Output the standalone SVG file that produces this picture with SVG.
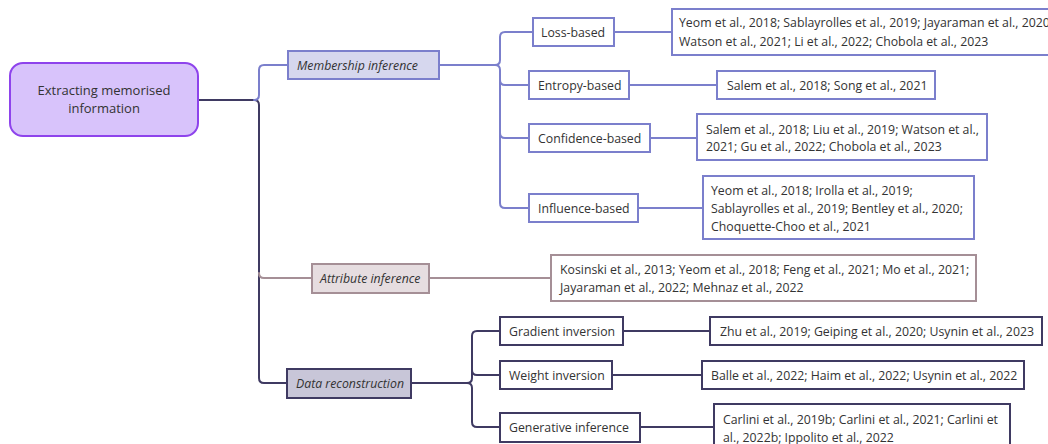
<svg xmlns="http://www.w3.org/2000/svg" width="1048" height="444" viewBox="0 0 1048 444">
<style>
text{font-family:"Open Sans","Noto Sans","Liberation Sans",sans-serif;font-size:12.3px;fill:#333333}
.it{font-style:italic}
.c{fill:none;stroke-width:2;stroke-linecap:round;stroke-linejoin:round}
.mi{stroke:#7b7fcc}
.at{stroke:#a58f96}
.dr{stroke:#3f3a62}
.box{fill:#ffffff;stroke-width:2}
</style>
<rect width="1048" height="444" fill="#ffffff"/>
<g id="connectors">
<path class="c dr" d="M198,100 H254 Q259,100 259,105 V378 Q259,383 264,383 H287"/>
<path class="c mi" d="M254,100 Q259,100 259,95 V70 Q259,65 264,65 H288"/>
<path class="c at" d="M259,273 Q259,278 264,278 H312"/>
<path class="c mi" d="M439,65 H495 Q500,65 500,60 V37 Q500,32 505,32 H533"/>
<path class="c mi" d="M495,65 Q500,65 500,70 V203 Q500,208 505,208 H529"/>
<path class="c mi" d="M500,80 Q500,85 505,85 H529"/>
<path class="c mi" d="M500,133 Q500,138 505,138 H529"/>
<path class="c mi" d="M614,32 H672"/>
<path class="c mi" d="M629,85 H717"/>
<path class="c mi" d="M650,138 H697"/>
<path class="c mi" d="M638,208 H703"/>
<path class="c at" d="M429,278 H551"/>
<path class="c dr" d="M411,383 H467 Q472,383 472,378 V336 Q472,331 477,331 H500"/>
<path class="c dr" d="M467,383 Q472,383 472,388 V422 Q472,427 477,427 H500"/>
<path class="c dr" d="M472,370 Q472,375 477,375 H500"/>
<path class="c dr" d="M623,331 H710"/>
<path class="c dr" d="M612,375 H702"/>
<path class="c dr" d="M640,427 H714"/>
</g>
<g id="root">
<rect x="10" y="63" width="188" height="73" rx="13" fill="#d8c3fb" stroke="#8e43ec" stroke-width="2"/>
<text x="104" y="95" text-anchor="middle" style="font-size:13px">Extracting memorised</text>
<text x="104" y="113" text-anchor="middle" style="font-size:13px">information</text>
</g>
<g id="membership-inference">
<rect x="288" y="51" width="151" height="28" fill="#d6d7ee" stroke="#7b7fcc" stroke-width="2"/>
<text class="it" x="297" y="69.5">Membership inference</text>
</g>
<g id="loss-based">
<rect class="box" x="533" y="18" width="81" height="28" stroke="#7b7fcc"/>
<text x="541" y="36.5">Loss-based</text>
</g>
<g id="loss-refs">
<rect class="box" x="672" y="9" width="390" height="46" stroke="#7b7fcc"/>
<text x="679" y="27">Yeom et al., 2018; Sablayrolles et al., 2019; Jayaraman et al., 2020</text>
<text x="679" y="46">Watson et al., 2021; Li et al., 2022; Chobola et al., 2023</text>
</g>
<g id="entropy-based">
<rect class="box" x="529" y="71" width="100" height="28" stroke="#7b7fcc"/>
<text x="538" y="89.5">Entropy-based</text>
</g>
<g id="entropy-refs">
<rect class="box" x="717" y="71" width="218" height="28" stroke="#7b7fcc"/>
<text x="727" y="89.5">Salem et al., 2018; Song et al., 2021</text>
</g>
<g id="confidence-based">
<rect class="box" x="529" y="124" width="121" height="28" stroke="#7b7fcc"/>
<text x="538" y="142.5">Confidence-based</text>
</g>
<g id="confidence-refs">
<rect class="box" x="697" y="114" width="290" height="46" stroke="#7b7fcc"/>
<text x="706" y="133.5">Salem et al., 2018; Liu et al., 2019; Watson et al.,</text>
<text x="706" y="151">2021; Gu et al., 2022; Chobola et al., 2023</text>
</g>
<g id="influence-based">
<rect class="box" x="529" y="194" width="109" height="28" stroke="#7b7fcc"/>
<text x="538" y="212.5">Influence-based</text>
</g>
<g id="influence-refs">
<rect class="box" x="703" y="176" width="271" height="63" stroke="#7b7fcc"/>
<text x="711" y="194.5">Yeom et al., 2018; Irolla et al., 2019;</text>
<text x="711" y="212.5">Sablayrolles et al., 2019; Bentley et al., 2020;</text>
<text x="711" y="230.5">Choquette-Choo et al., 2021</text>
</g>
<g id="attribute-inference">
<rect x="312" y="264" width="117" height="29" fill="#e6dde0" stroke="#a58f96" stroke-width="2"/>
<text class="it" x="320" y="282.5">Attribute inference</text>
</g>
<g id="attribute-refs">
<rect class="box" x="551" y="255" width="425" height="46" stroke="#a58f96"/>
<text x="560" y="273.5">Kosinski et al., 2013; Yeom et al., 2018; Feng et al., 2021; Mo et al., 2021;</text>
<text x="560" y="291.5">Jayaraman et al., 2022; Mehnaz et al., 2022</text>
</g>
<g id="data-reconstruction">
<rect x="287" y="369" width="124" height="29" fill="#c8c6d8" stroke="#3f3a62" stroke-width="2"/>
<text class="it" x="296" y="387.5">Data reconstruction</text>
</g>
<g id="gradient-inversion">
<rect class="box" x="500" y="317" width="123" height="28" stroke="#3f3a62"/>
<text x="509" y="335.5">Gradient inversion</text>
</g>
<g id="gradient-refs">
<rect class="box" x="710" y="317" width="332" height="28" stroke="#3f3a62"/>
<text x="720" y="335.5">Zhu et al., 2019; Geiping et al., 2020; Usynin et al., 2023</text>
</g>
<g id="weight-inversion">
<rect class="box" x="500" y="361" width="112" height="28" stroke="#3f3a62"/>
<text x="509" y="379.5">Weight inversion</text>
</g>
<g id="weight-refs">
<rect class="box" x="702" y="361" width="322" height="28" stroke="#3f3a62"/>
<text x="711" y="379.5">Balle et al., 2022; Haim et al., 2022; Usynin et al., 2022</text>
</g>
<g id="generative-inference">
<rect class="box" x="500" y="413" width="140" height="29" stroke="#3f3a62"/>
<text x="509" y="431.5">Generative inference</text>
</g>
<g id="generative-refs">
<rect class="box" x="714" y="404" width="296" height="56" stroke="#3f3a62"/>
<text x="723" y="423.5">Carlini et al., 2019b; Carlini et al., 2021; Carlini et</text>
<text x="723" y="441.5">al., 2022b; Ippolito et al., 2022</text>
</g>
</svg>
